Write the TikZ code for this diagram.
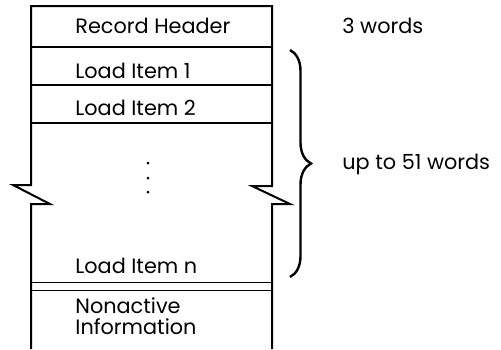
\documentclass[tikz,border=0pt]{standalone}
\usepackage{fontspec}
\setmainfont{Poppins}
\usetikzlibrary{decorations.pathreplacing}
\begin{document}
\begin{tikzpicture}[x=0.5pt, y=-0.5pt, every node/.style={font=\fontsize{10.4}{12}\selectfont, inner sep=0pt, anchor=base west},
  frame/.style={line width=1pt}, sep/.style={line width=0.8pt}]
\useasboundingbox (0,0) rectangle (501,349);
% outline with break marks
\draw[frame] (31,349) -- (31,204) -- (50,204) -- (13,185) -- (31,185) -- (31,6) -- (272,6) -- (272,186) -- (252,186) -- (290,204) -- (272,204) -- (272,349);
\draw[sep] (31,47) -- (272,47);
\draw[sep] (31,85) -- (272,85);
\draw[sep] (31,123) -- (272,123);
\draw[sep] (31,282.5) -- (272,282.5);
\draw[sep] (31,290.5) -- (272,290.5);
\node (hdr) at (75,33.5) {Record Header};
\node (li1) at (75,78) {Load Item 1};
\node (li2) at (75,115) {Load Item 2};
\foreach \y in {163,178,192} \fill (148,\y) circle (1.5);
\node (lin) at (75,273) {Load Item n};
\node (na1) at (75,313) {Nonactive};
\node (na2) at (75,334) {Information};
\draw[line width=1.2pt, decorate, decoration={brace, amplitude=10.5pt}] (290,50) -- (290,277);
\node (w3) at (342,33) {3 words};
\node (w51) at (342,169) {up to 51 words};
\end{tikzpicture}
\end{document}
